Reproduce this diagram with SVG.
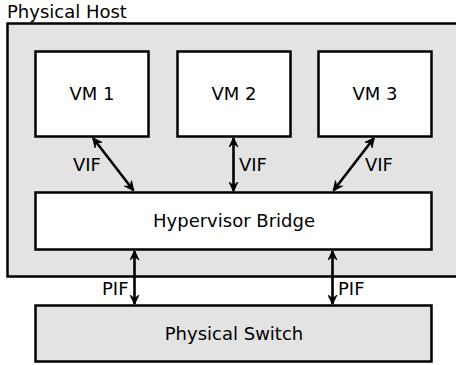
<svg xmlns="http://www.w3.org/2000/svg" width="456" height="365" viewBox="0 0 456 365">
<style>
.box{fill:#fff;stroke:#000;stroke-width:2.5}
.grey{fill:#e3e3e3;stroke:#000;stroke-width:2.5}
text{font-family:"DejaVu Sans",sans-serif;font-size:18px;fill:#000}
.c{text-anchor:middle}
.conn line{stroke:#000;stroke-width:2.6}
</style>
<defs>
<marker id="ah" viewBox="0 0 10 10" refX="9.5" refY="5" markerWidth="10" markerHeight="10" orient="auto-start-reverse" markerUnits="userSpaceOnUse">
<path d="M0.5,0.5 L10,5 L0.5,9.5 L4,5 z" fill="#000" stroke="#000" stroke-width="0.8" stroke-linejoin="round"/>
</marker>
</defs>
<g id="host">
<rect class="grey" x="7.5" y="23.5" width="460" height="253"/>
<text x="7" y="18">Physical Host</text>
</g>
<g id="vm1"><rect class="box" x="35.5" y="51.5" width="113" height="85"/><text class="c" x="92" y="100">VM 1</text></g>
<g id="vm2"><rect class="box" x="177.5" y="51.5" width="113" height="85"/><text class="c" x="234" y="100">VM 2</text></g>
<g id="vm3"><rect class="box" x="318.5" y="51.5" width="113" height="85"/><text class="c" x="375" y="100">VM 3</text></g>
<g id="bridge"><rect class="box" x="35.5" y="192.5" width="396" height="57"/><text class="c" x="234" y="227">Hypervisor Bridge</text></g>
<g id="switch"><rect class="grey" x="35.5" y="305.5" width="396" height="56"/><text class="c" x="234" y="340">Physical Switch</text></g>
<g class="conn" id="connectors">
<line x1="93" y1="138" x2="133.5" y2="190.5" marker-start="url(#ah)" marker-end="url(#ah)"/>
<line x1="233.5" y1="138" x2="233.5" y2="191" marker-start="url(#ah)" marker-end="url(#ah)"/>
<line x1="374" y1="138" x2="333.5" y2="190.5" marker-start="url(#ah)" marker-end="url(#ah)"/>
<line x1="134.5" y1="251" x2="134.5" y2="304" marker-start="url(#ah)" marker-end="url(#ah)"/>
<line x1="332.5" y1="251" x2="332.5" y2="304" marker-start="url(#ah)" marker-end="url(#ah)"/>
</g>
<g id="labels">
<text x="73" y="171">VIF</text>
<text x="239" y="171">VIF</text>
<text x="365" y="171">VIF</text>
<text x="102" y="295">PIF</text>
<text x="338" y="295">PIF</text>
</g>
</svg>
